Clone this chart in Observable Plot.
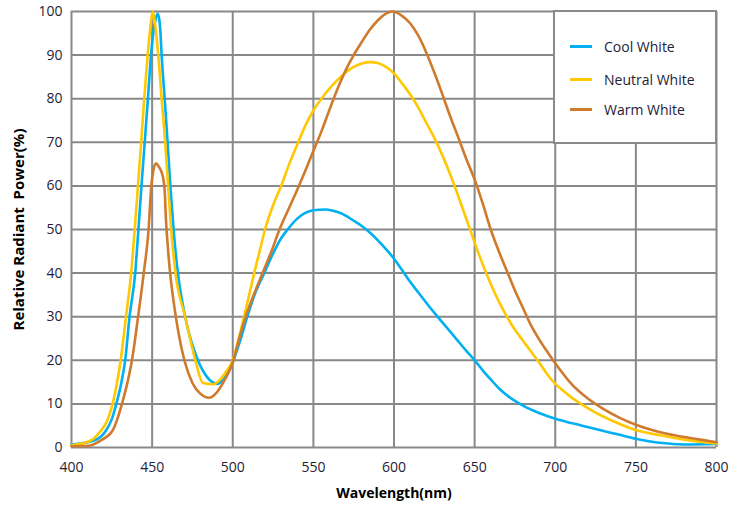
<!DOCTYPE html>
<html>
<head>
<meta charset="utf-8">
<script src="https://cdn.jsdelivr.net/npm/d3@7"></script>
<script src="https://cdn.jsdelivr.net/npm/@observablehq/plot@0.6"></script>
<style>
  html, body { margin: 0; padding: 0; background: #fff; }
  #wrap { position: relative; width: 749px; height: 506px; }
  [aria-label="x-axis label"] text { font-weight: bold; fill: #000; }
  [aria-label="y-axis label"] text { font-weight: bold; fill: #000; white-space: pre; font-size: 15px; }
  #legend { position: absolute; left: 553px; top: 10px; width: 160px; height: 130px; background: #fff; border: 2px solid #8a8a8a; font-family: "Open Sans", sans-serif; font-size: 14px; color: #1f2237; }
  .item { position: absolute; left: 15px; height: 20px; display: flex; align-items: center; }
  .swatch { width: 22px; height: 3px; margin-right: 12px; }
</style>
</head>
<body>
<div id="wrap"></div>
<script>
const seriesNames = ["Cool White", "Neutral White", "Warm White"];
const seriesColors = ["#00b0f0", "#ffc800", "#cf7a2c"];
const xTicks = [400, 450, 500, 550, 600, 650, 700, 750, 800];
const yTicks = [0, 10, 20, 30, 40, 50, 60, 70, 80, 90, 100];

const coolWl = [400, 414, 421.4, 425, 427.8, 431, 433.3, 436, 439.5, 441.5, 443.4, 445.4, 447.4, 449.3, 451.5, 453.3, 454.3, 455.2, 455.9, 457.8, 459.6, 461.3, 463.3, 466, 470.5, 478.4, 484, 490.5, 495, 500, 505, 509, 514, 519.5, 525, 530, 534, 540, 545, 550, 557.7, 565, 570, 575, 580, 585, 590, 595, 600, 605, 610, 615, 620, 627, 635, 640, 645, 650, 655, 660, 665, 670, 675, 680, 690, 700, 710, 720, 730, 740, 750, 760, 770, 780, 800];
const coolVal = [0.7, 1.6, 3.9, 6.5, 10, 15, 20, 30, 40, 50, 60, 70, 80, 90, 97, 99.5, 98.5, 95, 90, 80, 70, 60, 50, 40, 30, 20, 16.2, 14.6, 16, 19.5, 25, 30, 35.5, 40, 44.5, 48, 50, 52.5, 53.8, 54.4, 54.6, 54, 53.2, 52, 50.8, 49.3, 47.5, 45.5, 43.3, 40.7, 38, 35.6, 33.2, 30, 26.5, 24.3, 22.1, 20, 17.7, 15.6, 13.6, 12, 10.7, 9.6, 7.9, 6.6, 5.6, 4.7, 3.8, 2.9, 2, 1.3, 0.9, 0.7, 0.8];

const neutralWl = [400, 412, 418.3, 422, 425.5, 428.3, 430.5, 433.8, 437, 439.2, 441.2, 443.2, 445.1, 447.2, 448.8, 450.3, 451.5, 453.8, 455.9, 458.1, 459.9, 461.8, 464.5, 470.5, 476.8, 481.5, 488, 492, 496, 500, 503, 507, 510, 513.3, 517, 520, 523, 526, 530, 535, 540, 545, 550, 555, 560, 565, 570, 575, 580, 585, 590, 595, 600, 605, 610, 615, 620, 625, 630, 635, 640, 645, 650, 655, 660, 665, 670, 675, 680, 685, 690, 695, 700, 705, 710, 716, 725, 735, 750, 765, 780, 800];
const neutralVal = [0.5, 1.6, 3.9, 6, 10, 15, 20, 30, 40, 50, 60, 70, 80, 90, 96, 100, 98, 90, 80, 70, 60, 50, 40, 30, 20, 14.8, 14.5, 15.5, 17.5, 20, 24, 30, 34.7, 40, 45.5, 50, 53.5, 56.5, 60, 65, 69.5, 73.8, 77.3, 80, 82.3, 84.3, 86, 87.3, 88.1, 88.4, 88.2, 87.3, 85.8, 83.5, 81, 78, 74.5, 71, 67, 62.5, 57.5, 52.3, 47, 42, 37.5, 33.5, 30, 27, 24.5, 22, 19.5, 16.8, 14.6, 13, 11.5, 10, 8, 6.2, 4, 2.8, 1.8, 0.9];

const warmWl = [400, 410, 418, 425.5, 431.3, 435, 437.5, 441.3, 444.8, 447.8, 449.5, 450.5, 452.4, 454, 455.5, 457.1, 457.9, 458.5, 459.6, 461, 463.5, 466.5, 470, 475, 480, 485.4, 490, 495, 500, 504, 508, 513, 518.5, 524, 529, 535, 541, 545, 550, 555, 560, 565, 570, 575, 580, 585, 590, 595, 599, 605, 610, 615, 620, 625, 630, 635, 640, 645, 650, 655, 660, 665, 670, 675, 680, 685, 690, 695, 700, 710, 720, 730, 740, 750, 760, 770, 780, 790, 800];
const warmVal = [0.3, 0.4, 1.6, 3.9, 10, 15.4, 20, 30, 40, 50, 60, 63, 65.2, 64.5, 63.5, 61.2, 58.2, 52.8, 46.7, 40.6, 33, 26, 20, 14.8, 12.3, 11.4, 12.6, 15.5, 19.5, 25, 30, 35, 40, 45, 50, 55, 60, 63.5, 68, 72.5, 77.5, 82.3, 86.5, 90, 93, 95.8, 98, 99.5, 100, 99, 97.3, 94.5, 90.6, 86, 81, 75.8, 71, 66, 61.5, 56, 50, 45, 40.5, 36, 32, 28, 24.8, 22, 19.3, 14.6, 11.3, 8.8, 6.8, 5.2, 4, 3.1, 2.4, 1.8, 1.2];

const series = [
  {name: seriesNames[0], wl: coolWl, val: coolVal},
  {name: seriesNames[1], wl: neutralWl, val: neutralVal},
  {name: seriesNames[2], wl: warmWl, val: warmVal}
];
const rows = series.flatMap(s => s.wl.map((w, i) => ({series: s.name, wl: w, v: s.val[i]})));

const plot = Plot.plot({
  width: 749,
  height: 506,
  marginLeft: 71,
  marginRight: 33,
  marginTop: 11,
  marginBottom: 59,
  style: {fontFamily: "'Open Sans', sans-serif", fontSize: "14px", color: "#1f2237", background: "#fff"},
  x: {domain: [400, 800]},
  y: {domain: [0, 100]},
  color: {domain: seriesNames, range: seriesColors},
  marks: [
    Plot.ruleX(xTicks, {stroke: "#888", strokeWidth: 2, strokeOpacity: 1}),
    Plot.ruleY(yTicks, {stroke: "#888", strokeWidth: 2, strokeOpacity: 1}),
    Plot.line(rows, {x: "wl", y: "v", z: "series", stroke: "series", strokeWidth: 2.6, curve: "monotone-x"}),
    Plot.axisX(xTicks, {tickSize: 0, tickPadding: 15, label: "Wavelength(nm)", labelAnchor: "center", labelArrow: "none", labelOffset: 50}),
    Plot.axisY(yTicks, {tickSize: 0, tickPadding: 9, label: "Relative Radiant  Power(%)", labelAnchor: "center", labelArrow: "none", labelOffset: 58})
  ]
});
document.getElementById("wrap").appendChild(plot);

const legend = document.createElement("div");
legend.id = "legend";
const tops = [24, 57, 87];
seriesNames.forEach((n, i) => {
  const it = document.createElement("div");
  it.className = "item";
  it.style.top = tops[i] + "px";
  const sw = document.createElement("div");
  sw.className = "swatch";
  sw.style.background = seriesColors[i];
  const t = document.createElement("span");
  t.textContent = n;
  it.appendChild(sw); it.appendChild(t);
  legend.appendChild(it);
});
document.getElementById("wrap").appendChild(legend);
</script>
</body>
</html>
